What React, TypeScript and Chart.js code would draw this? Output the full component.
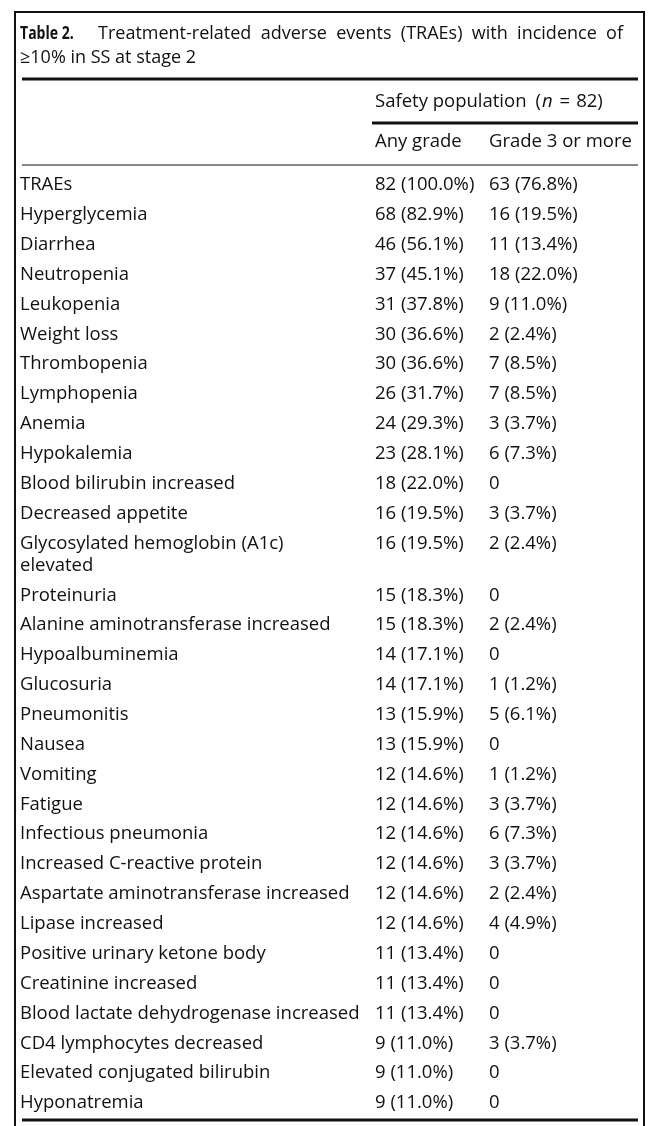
import React, { useEffect, useRef } from 'react';
import { Chart, registerables } from 'chart.js';

Chart.register(...registerables);

// ---------- data ----------
const TITLE_BOLD = 'Table 2.';
const TITLE_LINE1 = 'Treatment-related adverse events (TRAEs) with incidence of';
const TITLE_LINE2 = '≥10% in SS at stage 2';
const GROUP_HEADER = ['Safety population', '(', 'n', '=', '82)'];
const COLUMN_HEADERS = ['Any grade', 'Grade 3 or more'];

const EVENTS = [
  'TRAEs',
  'Hyperglycemia',
  'Diarrhea',
  'Neutropenia',
  'Leukopenia',
  'Weight loss',
  'Thrombopenia',
  'Lymphopenia',
  'Anemia',
  'Hypokalemia',
  'Blood bilirubin increased',
  'Decreased appetite',
  'Glycosylated hemoglobin (A1c)\nelevated',
  'Proteinuria',
  'Alanine aminotransferase increased',
  'Hypoalbuminemia',
  'Glucosuria',
  'Pneumonitis',
  'Nausea',
  'Vomiting',
  'Fatigue',
  'Infectious pneumonia',
  'Increased C-reactive protein',
  'Aspartate aminotransferase increased',
  'Lipase increased',
  'Positive urinary ketone body',
  'Creatinine increased',
  'Blood lactate dehydrogenase increased',
  'CD4 lymphocytes decreased',
  'Elevated conjugated bilirubin',
  'Hyponatremia',
];

const ANY_N = [82, 68, 46, 37, 31, 30, 30, 26, 24, 23, 18, 16, 16, 15, 15, 14, 14, 13, 13, 12, 12, 12, 12, 12, 12, 11, 11, 11, 9, 9, 9];
const ANY_PCT = [100.0, 82.9, 56.1, 45.1, 37.8, 36.6, 36.6, 31.7, 29.3, 28.1, 22.0, 19.5, 19.5, 18.3, 18.3, 17.1, 17.1, 15.9, 15.9, 14.6, 14.6, 14.6, 14.6, 14.6, 14.6, 13.4, 13.4, 13.4, 11.0, 11.0, 11.0];
const G3_N = [63, 16, 11, 18, 9, 2, 7, 7, 3, 6, 0, 3, 2, 0, 2, 0, 1, 5, 0, 1, 3, 6, 3, 2, 4, 0, 0, 0, 3, 0, 0];
const G3_PCT = [76.8, 19.5, 13.4, 22.0, 11.0, 2.4, 8.5, 8.5, 3.7, 7.3, 0, 3.7, 2.4, 0, 2.4, 0, 1.2, 6.1, 0, 1.2, 3.7, 7.3, 3.7, 2.4, 4.9, 0, 0, 0, 3.7, 0, 0];

// ---------- layout ----------
const W = 658;
const H = 1126;
const FONT = '"Open Sans", "Noto Sans", sans-serif';
const TITLE_SIZE = 18;
const BODY_SIZE = 18.5;
const COL_X = [20, 375, 489];
const ROW_TOP = 185;
const ROW_BOTTOM = 1103;
const WRAP_UNITS = 0.74;
const BOX = { left: 15, right: 644, top: 12 };
const RULE_L = 22;
const RULE_R = 638;
const TITLE_JUSTIFY_END = 623;
const HEADER_GAPS = [9, 1, 7, 6];

function fmt(n: number, p: number) {
  return n === 0 ? '0' : `${n} (${p.toFixed(1)}%)`;
}

// row positions in row units (wrapped labels take extra space)
const ROW_POS: number[] = [];
{
  let acc = 0;
  EVENTS.forEach((e) => {
    ROW_POS.push(acc);
    acc += 1 + (e.split('\n').length - 1) * WRAP_UNITS;
  });
}
const TOTAL_UNITS = ROW_POS[ROW_POS.length - 1];

const CELL_TEXT = [
  EVENTS,
  ANY_N.map((n, i) => fmt(n, ANY_PCT[i])),
  G3_N.map((n, i) => fmt(n, G3_PCT[i])),
];

const tablePlugin = {
  id: 'tableText',
  afterDatasetsDraw(chart: any) {
    const ctx: CanvasRenderingContext2D = chart.ctx;
    const yScale = chart.scales.y;
    const unitPx = Math.abs(yScale.getPixelForValue(1) - yScale.getPixelForValue(0));
    ctx.save();
    ctx.fillStyle = '#111';
    ctx.strokeStyle = '#111';
    ctx.textBaseline = 'middle';
    ctx.textAlign = 'left';

    // outer box
    ctx.lineWidth = 2;
    ctx.beginPath();
    ctx.moveTo(BOX.left, H);
    ctx.lineTo(BOX.left, BOX.top);
    ctx.lineTo(BOX.right, BOX.top);
    ctx.lineTo(BOX.right, H);
    ctx.stroke();

    // title
    ctx.save();
    ctx.font = `bold ${TITLE_SIZE}px ${FONT}`;
    ctx.translate(COL_X[0], 34);
    ctx.scale(0.78, 1);
    ctx.fillText(TITLE_BOLD, 0, 0);
    ctx.restore();
    ctx.font = `${TITLE_SIZE}px ${FONT}`;
    // justified first title line
    const words = TITLE_LINE1.split(' ');
    const widths = words.map((w) => ctx.measureText(w).width);
    const startX = 98;
    const gap = (TITLE_JUSTIFY_END - startX - widths.reduce((a, b) => a + b, 0)) / (words.length - 1);
    let tx = startX;
    words.forEach((w, i) => {
      ctx.fillText(w, tx, 34);
      tx += widths[i] + gap;
    });
    ctx.fillText(TITLE_LINE2, COL_X[0], 58);

    // rules
    const rule = (x1: number, x2: number, y: number, w: number) => {
      ctx.lineWidth = w;
      ctx.beginPath();
      ctx.moveTo(x1, y);
      ctx.lineTo(x2, y);
      ctx.stroke();
    };
    rule(RULE_L, RULE_R, 79, 3);
    rule(372, RULE_R, 123, 3);
    rule(RULE_L, RULE_R, 165, 1);
    rule(RULE_L, RULE_R, 1120, 3);

    // group header
    let x = COL_X[1];
    GROUP_HEADER.forEach((part, i) => {
      ctx.font = `${i === 2 ? 'italic ' : ''}${BODY_SIZE}px ${FONT}`;
      ctx.fillText(part, x, 102);
      x += ctx.measureText(part).width + (HEADER_GAPS[i] || 0);
    });

    // column headers
    ctx.font = `${BODY_SIZE}px ${FONT}`;
    ctx.fillText(COLUMN_HEADERS[0], COL_X[1], 142);
    ctx.fillText(COLUMN_HEADERS[1], COL_X[2], 142);

    // cells via dataset elements
    chart.data.datasets.forEach((ds: any, di: number) => {
      const meta = chart.getDatasetMeta(di);
      meta.data.forEach((el: any, i: number) => {
        const lines = String(CELL_TEXT[di][i]).split('\n');
        lines.forEach((ln, k) => {
          ctx.fillText(ln, el.x, el.y + k * WRAP_UNITS * unitPx);
        });
      });
    });
    ctx.restore();
  },
};

export default function App() {
  const ref = useRef<HTMLCanvasElement | null>(null);
  useEffect(() => {
    document.body.style.margin = '0';
    document.body.style.background = '#fff';
    if (!ref.current) return;
    const chart = new Chart(ref.current, {
      type: 'scatter',
      data: {
        datasets: CELL_TEXT.map((col, c) => ({
          label: c === 0 ? 'Event' : COLUMN_HEADERS[c - 1],
          data: col.map((_, i) => ({ x: COL_X[c], y: ROW_POS[i] })),
          pointRadius: 0,
          pointHoverRadius: 0,
        })),
      },
      options: {
        animation: false,
        responsive: false,
        devicePixelRatio: 1,
        events: [],
        layout: { padding: { top: ROW_TOP, bottom: H - ROW_BOTTOM, left: 0, right: 0 } },
        plugins: { legend: { display: false }, tooltip: { enabled: false } },
        scales: {
          x: { type: 'linear', min: 0, max: W, display: false },
          y: { type: 'linear', min: 0, max: TOTAL_UNITS, reverse: true, display: false },
        },
      },
      plugins: [tablePlugin],
    });
    return () => chart.destroy();
  }, []);
  return <canvas ref={ref} width={W} height={H} style={{ display: 'block' }} />;
}
